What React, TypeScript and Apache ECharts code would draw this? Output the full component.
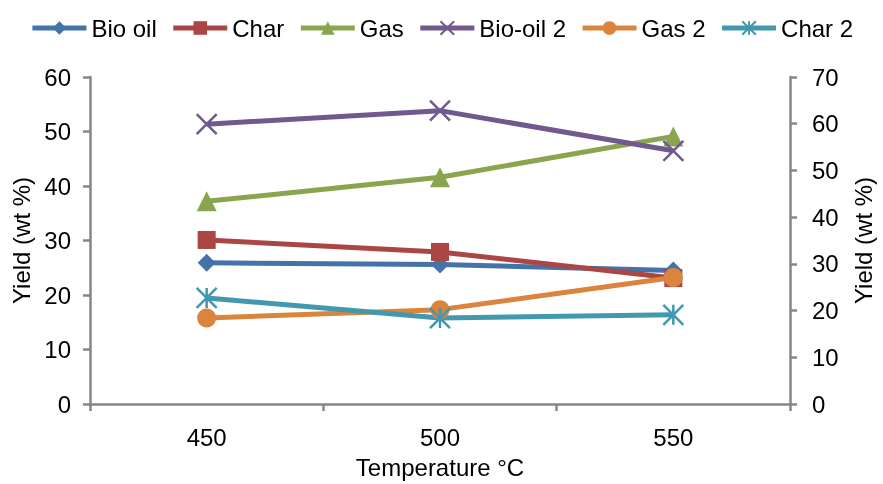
import React, { useEffect, useRef } from "react";
import * as echarts from "echarts";

const categories = ["450", "500", "550"];
const bioOil = [25.9, 25.6, 24.5];
const charVals = [30.1, 27.9, 23.1];
const gas = [37.2, 41.6, 49.1];
const bioOil2 = [59.9, 62.8, 54.2];
const gas2 = [18.4, 20.2, 27.1];
const char2 = [22.7, 18.4, 19.1];

const CROSS = "path://M0,0L10,10M10,0L0,10";
const STAR = "path://M5,0L5,10M0,0L10,10M10,0L0,10";

const FONT = "Liberation Sans, Arial, sans-serif";
const AXIS_COLOR = "#868686";
const FS = 24;

export default function App() {
  const ref = useRef<HTMLDivElement>(null);
  useEffect(() => {
    if (!ref.current) return;
    const chart = echarts.init(ref.current, undefined, { renderer: "svg" });
    const mk = (
      name: string,
      data: number[],
      color: string,
      symbol: string,
      symbolSize: number,
      yAxisIndex: number,
      stroke = false
    ) => ({
      name,
      type: "line",
      data,
      yAxisIndex,
      symbol,
      symbolSize,
      color,
      lineStyle: { color, width: 5 },
      itemStyle: stroke
        ? { color: "transparent", borderColor: color, borderWidth: 2.5 }
        : { color },
      emphasis: { disabled: true },
    });
    chart.setOption({
      animation: false,
      textStyle: { fontFamily: FONT },
      legend: {
        top: 11,
        left: "center",
        itemWidth: 54,
        itemHeight: 17,
        itemGap: 14,
        lineStyle: { width: 5 },
        textStyle: { fontSize: FS, color: "#000", fontFamily: FONT },
      },
      grid: { left: 90, right: 85, top: 77, bottom: 78 },
      xAxis: {
        type: "category",
        data: categories,
        boundaryGap: true,
        name: "Temperature °C",
        nameLocation: "middle",
        nameGap: 51,
        nameTextStyle: { fontSize: FS, color: "#000", fontFamily: FONT },
        axisLine: { lineStyle: { color: AXIS_COLOR, width: 2.5 } },
        axisTick: { show: true, length: 7, lineStyle: { color: AXIS_COLOR, width: 2.5 } },
        axisLabel: { fontSize: FS, color: "#000", margin: 21, fontFamily: FONT },
        splitLine: { show: false },
      },
      yAxis: [
        {
          type: "value",
          min: 0,
          max: 60,
          interval: 10,
          name: "Yield (wt %)",
          nameLocation: "middle",
          nameGap: 53,
          nameRotate: 90,
          nameTextStyle: { fontSize: FS, color: "#000", fontFamily: FONT },
          axisLine: { show: true, lineStyle: { color: AXIS_COLOR, width: 2.5 } },
          axisTick: { show: true, length: 7, lineStyle: { color: AXIS_COLOR, width: 2.5 } },
          axisLabel: { fontSize: FS, color: "#000", margin: 19, fontFamily: FONT },
          splitLine: { show: false },
        },
        {
          type: "value",
          min: 0,
          max: 70,
          interval: 10,
          position: "right",
          name: "Yield (wt %)",
          nameLocation: "middle",
          nameGap: 61,
          nameRotate: 90,
          nameTextStyle: { fontSize: FS, color: "#000", fontFamily: FONT },
          axisLine: { show: true, lineStyle: { color: AXIS_COLOR, width: 2.5 } },
          axisTick: { show: true, length: 7, lineStyle: { color: AXIS_COLOR, width: 2.5 } },
          axisLabel: { fontSize: FS, color: "#000", margin: 22, fontFamily: FONT },
          splitLine: { show: false },
        },
      ],
      series: [
        mk("Bio oil", bioOil, "#4572A7", "diamond", 18, 0),
        mk("Char", charVals, "#AA4643", "rect", 18, 0),
        mk("Gas", gas, "#89A54E", "triangle", 20, 0),
        mk("Bio-oil 2", bioOil2, "#71588F", CROSS, 20, 1, true),
        mk("Gas 2", gas2, "#DB843D", "circle", 19, 1),
        mk("Char 2", char2, "#4198AF", STAR, 20, 1, true),
      ],
    });
    return () => chart.dispose();
  }, []);
  return (
    <div
      ref={ref}
      style={{ position: "fixed", left: 0, top: 0, width: 883, height: 484 }}
    />
  );
}
